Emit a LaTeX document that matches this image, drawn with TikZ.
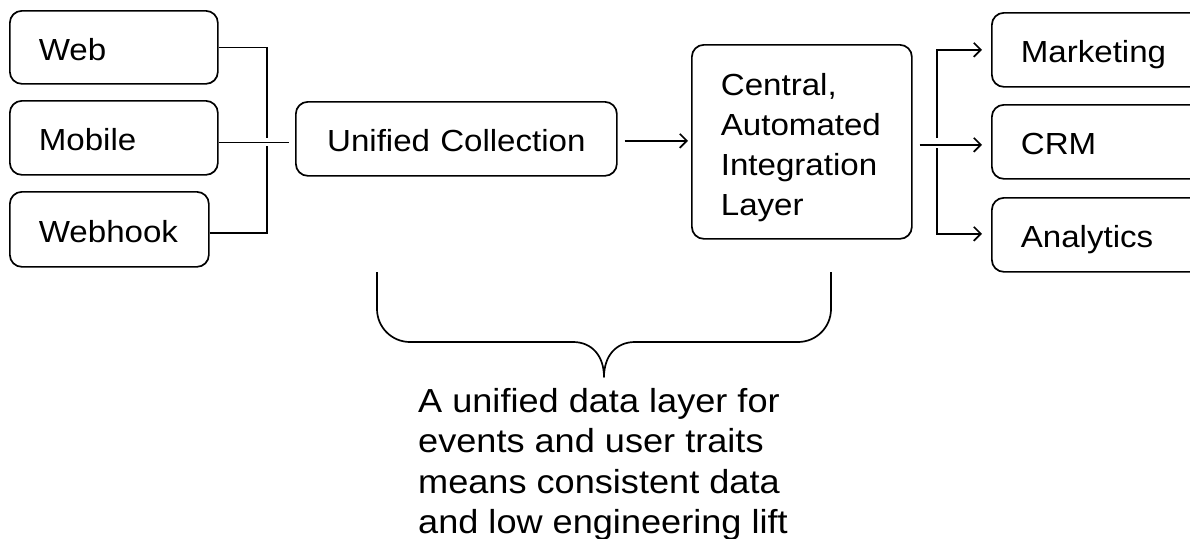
\documentclass[tikz,border=0pt]{standalone}
\usepackage{fontspec}
\setmainfont{Liberation Sans}[FakeStretch=1.085]
\usetikzlibrary{arrows.meta}

\begin{document}
\begin{tikzpicture}[x=1pt,y=-1pt,
  lw/.style={line width=1.7pt},
  box/.style={draw, lw, rounded corners=12pt, anchor=north west,
    inner xsep=29pt, inner ysep=0pt, align=left,
    font=\fontsize{30.5}{40}\selectfont,
    text height=26pt, text depth=0pt},
  conn/.style={lw},
  arr/.style={lw, -{Straight Barb[length=7pt,width=14pt]}},
  brace/.style={lw, line join=round},
  note/.style={anchor=north west, inner sep=0pt, align=left,
    font=\fontsize{33.3}{40.5}\selectfont}
]
\useasboundingbox (0,0) rectangle (1190,538);
\clip (0,0) rectangle (1190,538);

% sources
\node[box, text width=150pt, minimum height=73pt] (web)     at (9,10)  {Web};
\node[box, text width=150pt, minimum height=74pt] (mobile)  at (9,100) {Mobile};
\node[box, text width=141pt, minimum height=75pt] (webhook) at (9,191) {Webhook};

% collection and integration
\node[box, align=center, text width=263pt, minimum height=74pt] (unified) at (295,101) {Unified Collection};
\node[box, text width=162pt, minimum height=194pt, text height=, text depth=] (central) at (691,44)
  {\rule{0pt}{34pt}Central,\\Automated\\Integration\\Layer};

% destinations
\node[box, text width=166pt, minimum height=74pt] (marketing) at (991,12)  {Marketing};
\node[box, text width=166pt, minimum height=74pt] (crm)       at (991,104) {CRM};
\node[box, text width=166pt, minimum height=74pt] (analytics) at (991,197) {Analytics};

% bus joining the sources
\coordinate (lgapT) at (267,137.5);
\coordinate (lgapB) at (267,146);
\draw[conn] (web.east) -| (lgapT);
\draw[conn] ([yshift=-3.5pt]webhook.east) -| (lgapB);
\draw[conn] ([yshift=-4.5pt]mobile.east) -- ++(70,0);

% collection to integration layer
\draw[arr] ([xshift=7pt,yshift=-2pt]unified.east) -- ([xshift=-3pt,yshift=-2pt]unified.east -| central.west);

% fan-out to destinations
\coordinate (rgapT) at (937,138);
\coordinate (rgapB) at (937,148);
\draw[arr] ([xshift=7pt,yshift=-3pt]central.east) -- ([xshift=-9pt,yshift=-3pt]crm.west);
\draw[arr] (rgapT) |- ([xshift=-9pt]marketing.west);
\draw[arr] (rgapB) |- ([xshift=-9pt,yshift=1pt]analytics.west);

% brace under collection and integration
\draw[brace] (377,272) -- (377,309) arc[start angle=180, end angle=90, radius=33]
  -- (573,342) .. controls (592,342) and (604,356) .. (604,377)
  .. controls (604,356) and (616,342) .. (635,342)
  -- (798,342) arc[start angle=90, end angle=0, radius=33] -- (831,272);

\node[note] (summary) at (418,388)
  {A unified data layer for\\events and user traits\\means consistent data\\and low engineering lift};
\end{tikzpicture}
\end{document}
